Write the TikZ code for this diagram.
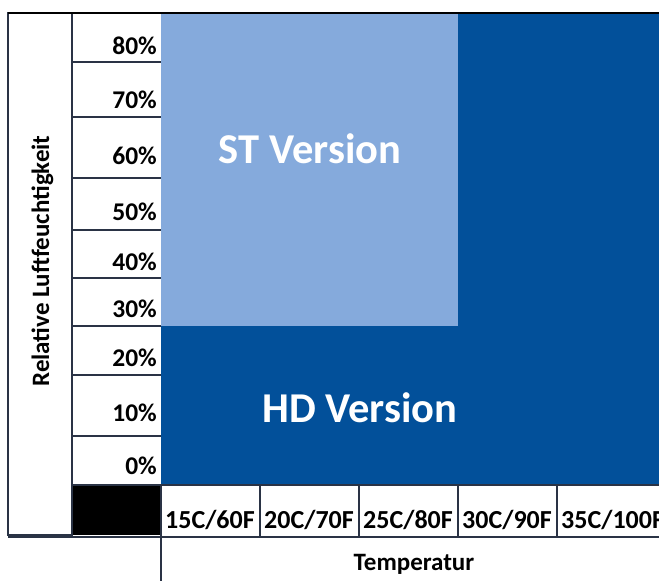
\documentclass[tikz,border=0pt]{standalone}
\usepackage{fontspec}
\setmainfont{Carlito}
\definecolor{darkblue}{HTML}{02509A}
\definecolor{lightblue}{HTML}{85AADC}
\definecolor{gridline}{HTML}{2A3345}
\begin{document}
\begin{tikzpicture}[x=1pt,y=-1pt,
  gline/.style={draw=gridline,line width=1.3pt},
  pct/.style={anchor=base east,inner sep=0pt,font=\fontsize{25.5}{27}\selectfont\bfseries},
  tmp/.style={anchor=base west,inner sep=0pt,font=\fontsize{26}{28}\selectfont\bfseries},
  big/.style={anchor=base,inner sep=0pt,text=white,font=\fontsize{42.5}{44}\selectfont\bfseries}]
\useasboundingbox (0,0) rectangle (659,581);
\fill[white] (0,0) rectangle (659,581);
% chart area
\fill[darkblue] (161,13) rectangle (659,485);
\fill[lightblue] (161,13) rectangle (458,326);
% black cell
\fill[black] (72,485) rectangle (161,535);
% left label column
\draw[gline] (8,13) rectangle (72,535);
% percent column lines
\foreach \yy in {62,117,178,230,278,326,375,436,485}
  \draw[gline] (72,\yy) -- (161,\yy);
\draw[gline] (72,13) -- (72,535);
% top border
\draw[black,line width=2.2pt] (8,13) -- (659,13);
% percentages
\node[pct] (p80) at (157,54) {80\%};
\node[pct] (p70) at (157,108) {70\%};
\node[pct] (p60) at (157,164) {60\%};
\node[pct] (p50) at (157,220) {50\%};
\node[pct] (p40) at (157,270) {40\%};
\node[pct] (p30) at (157,317) {30\%};
\node[pct] (p20) at (157,366) {20\%};
\node[pct] (p10) at (157,421) {10\%};
\node[pct] (p0) at (157,474) {0\%};
% temperatures
\node[tmp] (t15) at (165,528) {15C/60F};
\node[tmp] (t20) at (264,528) {20C/70F};
\node[tmp] (t25) at (363,528) {25C/80F};
\node[tmp] (t30) at (462,528) {30C/90F};
\node[tmp] (t35) at (561,528) {35C/100F};
% temperature row lines
\draw[gline] (161,485) -- (659,485);
\draw[gline] (161,537) -- (659,537);
\draw[gline] (8,537) -- (161,537);
\foreach \xx in {260,359,458,557}
  \draw[gline] (\xx,485) -- (\xx,537);
\draw[gline] (161,485) -- (161,581);
% labels
\node[big] (st) at (310,163) {ST Version};
\node[big] (hd) at (360,422) {HD Version};
\node[anchor=base,inner sep=0pt,rotate=90,font=\fontsize{25}{27}\selectfont\bfseries] (rl) at (49,261) {Relative Luftfeuchtigkeit};
\node[anchor=base,inner sep=0pt,font=\fontsize{25}{27}\selectfont\bfseries] (temp) at (414,570) {Temperatur};
\end{tikzpicture}
\end{document}
